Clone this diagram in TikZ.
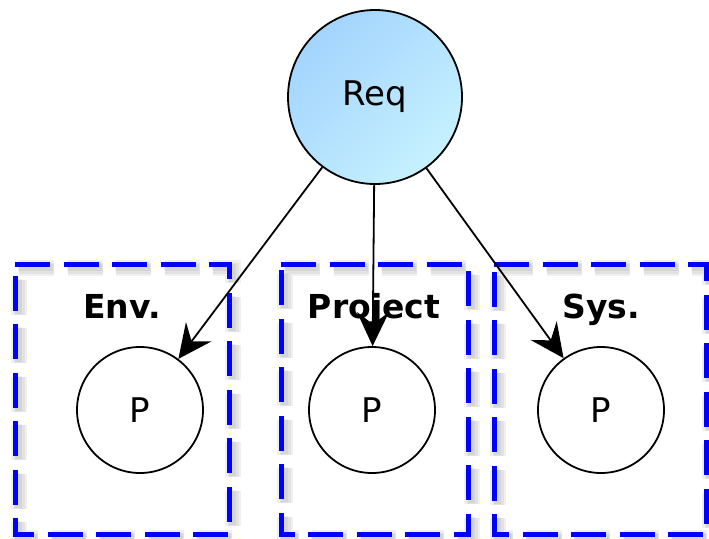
\documentclass[tikz,border=0pt]{standalone}
\usepackage{fontspec}
\setmainfont{DejaVu Sans}
\usetikzlibrary{arrows.meta}
\definecolor{reqleft}{HTML}{A3D4FD}
\definecolor{reqright}{HTML}{C6F1FF}
\begin{document}
\begin{tikzpicture}[x=1pt,y=-1pt,
  region/.style={draw=blue, line width=5pt, dash pattern=on 35pt off 13.5pt, line join=miter},
  regionshade/.style={draw=black, line width=#1, dash pattern=on 35pt off 13.5pt, opacity=0.06},
  regionlabel/.style={font=\bfseries\fontsize{33}{40}\selectfont, inner sep=0pt, anchor=base},
  pnode/.style={circle, draw, line width=1.8pt, minimum size=126pt, inner sep=0pt, fill=white,
    font=\fontsize{34}{40}\selectfont},
  reqnode/.style={circle, draw, line width=1.8pt, minimum size=174pt, inner sep=0pt,
    top color=reqleft, bottom color=reqright, shading angle=45,
    font=\fontsize{34}{40}\selectfont},
  link/.style={line width=1.8pt, -{Stealth[length=34pt,width=32pt,inset=12pt]}}
]
\useasboundingbox (0,0) rectangle (709,538);

% soft shadows under the dashed region frames
\foreach \xa/\xb in {15/229, 281/468, 494/706}{
  \foreach \w/\d in {16pt/4, 11pt/4, 7pt/3}{
    \begin{scope}[shift={(\d,\d)}]
      \draw[regionshade=\w] (\xa,264) -- (\xb,264) -- (\xb,534) -- (\xa,534) -- cycle;
    \end{scope}
  }
}

% dashed region frames, traced clockwise from the top-left corner
\foreach \xa/\xb in {15/229, 281/468, 494/706}{
  \draw[region] (\xa,264) -- (\xb,264) -- (\xb,534) -- (\xa,534) -- cycle;
}

% region titles
\node[regionlabel] (envlabel) at (122,318) {Env.};
\node[regionlabel] (projlabel) at (374,318) {Project};
\node[regionlabel] (syslabel) at (601,318) {Sys.};

% nodes
\node[reqnode] (req) at (375,97) {Req};
\node[pnode] (penv) at (140,410) {P};
\node[pnode] (pproj) at (372,410) {P};
\node[pnode] (psys) at (601,410) {P};

% connectors
\draw[link] (req) -- (penv);
\draw[link] (req) -- (pproj);
\draw[link] (req) -- (psys);
\end{tikzpicture}
\end{document}
